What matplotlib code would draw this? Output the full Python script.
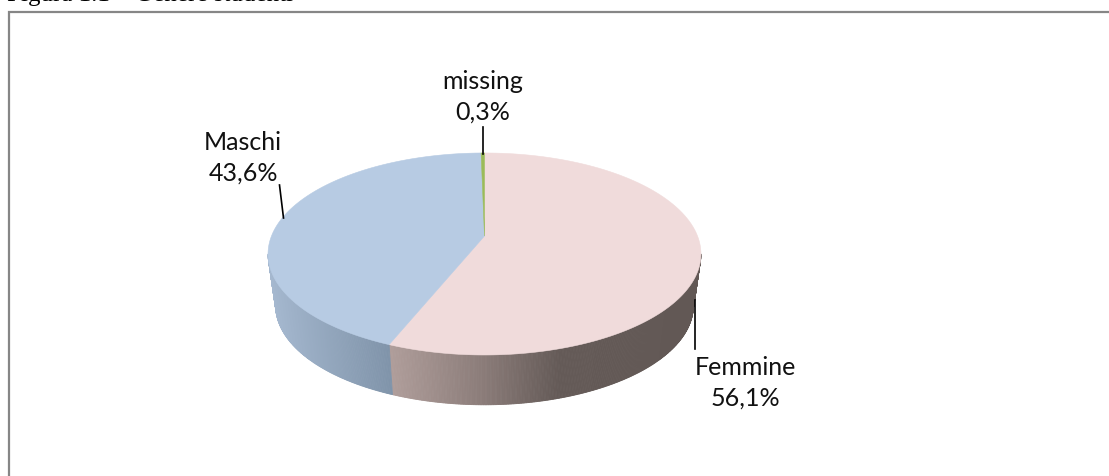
import numpy as np
import matplotlib
matplotlib.use("Agg")
import matplotlib.pyplot as plt
from matplotlib.colors import to_rgb

categories = ["Femmine", "Maschi", "missing"]
shares = [56.1, 43.6, 0.3]
share_labels = ["56,1%", "43,6%", "0,3%"]
top_colors = ["#F0DBDB", "#B7CBE3", "#9BBB59"]
title = "Figura 1.1 \u2013 Genere studenti"

W, H = 1109, 476
fig = plt.figure(figsize=(W / 100, H / 100), dpi=100)
ax = fig.add_axes([0, 0, 1, 1])
ax.set_xlim(0, W)
ax.set_ylim(H, 0)
ax.axis("off")

# perspective of the pie disc, in pixels
cx, cy = 484.5, 236
p = 0.178


def top_rim(theta):
    # theta is clockwise from 12 o'clock
    u, v = np.sin(theta), np.cos(theta)
    w = 1 + p * v
    return cx + 213 * u / w, cy - 97.8 * v / w


def bottom_rim(theta):
    u, v = np.sin(theta), np.cos(theta)
    w = 1 + p * v
    return cx + 205.5 * u / w, cy + 52 - 96 * v / w


def side_shade(x, stops):
    xs = [s[0] for s in stops]
    rgb = np.array([to_rgb(s[1]) for s in stops])
    return [np.interp(x, xs, rgb[:, i]) for i in range(3)]


side_stops = {
    "Femmine": [(388, "#B09E9B"), (480, "#8C7D7A"), (560, "#645A57"), (700, "#625855")],
    "Maschi": [(268, "#A5B8CF"), (388, "#8094AA")],
    "missing": [(480, "#7C8F4A"), (490, "#7C8F4A")],
}

# slice edges from the shares
edges = np.concatenate([[0], np.cumsum(shares)]) / sum(shares) * 2 * np.pi

# side wall as thin strips, only the part that faces the viewer
for i, name in enumerate(categories):
    a = max(edges[i], np.radians(100.2))
    b = min(edges[i + 1], np.radians(259.8))
    if b <= a:
        continue
    ts = np.linspace(a, b, int((b - a) * 150) + 2)
    for t0, t1 in zip(ts[:-1], ts[1:]):
        x0, y0 = top_rim(t0)
        x1, y1 = top_rim(t1)
        x2, y2 = bottom_rim(t1)
        x3, y3 = bottom_rim(t0)
        col = side_shade((x0 + x1) / 2, side_stops[name])
        ax.fill([x0, x1, x2, x3], [y0, y1, y2, y3], color=col, lw=0.6, zorder=2)

# top face
for i, name in enumerate(categories):
    ts = np.linspace(edges[i], edges[i + 1], 300)
    xs, ys = top_rim(ts)
    ax.fill(np.r_[cx, xs], np.r_[cy, ys], color=top_colors[i], lw=0.4, zorder=3)

# leader lines
ax.plot([694.5, 694.5], [300, 349], color="black", lw=1.2, zorder=4)
ax.plot([279.5, 283.5], [185, 218], color="black", lw=1.2, zorder=4)
ax.plot([483, 483], [127, 154], color="black", lw=1.2, zorder=4)

# labels
label_pos = [(745, 383), (243, 158), (483, 97)]
for name, lab, (x, y) in zip(categories, share_labels, label_pos):
    ax.text(x, y, name + "\n" + lab, ha="center", va="center", family="Lato",
            fontsize=18, color="#111111", linespacing=1.38, zorder=5)

# frame, open on the right and at the bottom like the crop
ax.plot([8.5, 8.5, W + 2], [H + 2, 12, 12], color="#868686", lw=1.6, solid_joinstyle="miter", zorder=1)

ax.text(7, 0.5, title, ha="left", va="baseline", family="Liberation Serif", fontsize=18, color="black", clip_on=True)

fig.savefig("out.png", dpi=100)
